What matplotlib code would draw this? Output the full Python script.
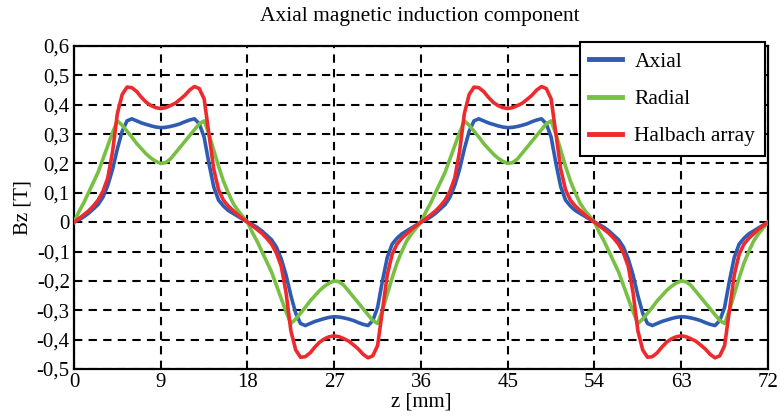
import matplotlib
matplotlib.use("Agg")
import matplotlib.pyplot as plt
import numpy as np

# z positions [mm], 0.5 mm step from 0 to 72
z_start, z_stop, z_step = 0.0, 72.0, 0.5

axial = [
    0, 0.008, 0.018, 0.03, 0.045, 0.06, 0.085, 0.125, 0.18, 0.25, 0.31, 0.345, 0.352, 0.345, 0.338, 0.333,
    0.328, 0.324, 0.322, 0.323, 0.326, 0.33, 0.335, 0.342, 0.348, 0.352, 0.335, 0.29, 0.2, 0.12, 0.075,
    0.055, 0.04, 0.03, 0.02, 0.01, 0,
    -0.008, -0.018, -0.03, -0.045, -0.06, -0.085, -0.125, -0.18, -0.25, -0.31, -0.345, -0.352, -0.345,
    -0.338, -0.333, -0.328, -0.324, -0.322, -0.323, -0.326, -0.33, -0.335, -0.342, -0.348, -0.352, -0.335,
    -0.29, -0.2, -0.12, -0.075, -0.055, -0.04, -0.03, -0.02, -0.01, 0,
    0.008, 0.018, 0.03, 0.045, 0.06, 0.085, 0.125, 0.18, 0.25, 0.31, 0.345, 0.352, 0.345, 0.338, 0.333,
    0.328, 0.324, 0.322, 0.323, 0.326, 0.33, 0.335, 0.342, 0.348, 0.352, 0.335, 0.29, 0.2, 0.12, 0.075,
    0.055, 0.04, 0.03, 0.02, 0.01, 0,
    -0.008, -0.018, -0.03, -0.045, -0.06, -0.085, -0.125, -0.18, -0.25, -0.31, -0.345, -0.352, -0.345,
    -0.338, -0.333, -0.328, -0.324, -0.322, -0.323, -0.326, -0.33, -0.335, -0.342, -0.348, -0.352, -0.335,
    -0.29, -0.2, -0.12, -0.075, -0.055, -0.04, -0.03, -0.02, -0.01, 0,
]

radial = [
    0, 0.035, 0.065, 0.1, 0.135, 0.17, 0.215, 0.26, 0.305, 0.345, 0.33, 0.31, 0.29, 0.268, 0.25, 0.232,
    0.218, 0.207, 0.2, 0.203, 0.215, 0.235, 0.255, 0.275, 0.295, 0.315, 0.335, 0.345, 0.3, 0.245, 0.19,
    0.14, 0.1, 0.065, 0.04, 0.02, 0,
    -0.035, -0.065, -0.1, -0.135, -0.17, -0.215, -0.26, -0.305, -0.345, -0.33, -0.31, -0.29, -0.268,
    -0.25, -0.232, -0.218, -0.207, -0.2, -0.203, -0.215, -0.235, -0.255, -0.275, -0.295, -0.315, -0.335,
    -0.345, -0.3, -0.245, -0.19, -0.14, -0.1, -0.065, -0.04, -0.02, 0,
    0.035, 0.065, 0.1, 0.135, 0.17, 0.215, 0.26, 0.305, 0.345, 0.33, 0.31, 0.29, 0.268, 0.25, 0.232,
    0.218, 0.207, 0.2, 0.203, 0.215, 0.235, 0.255, 0.275, 0.295, 0.315, 0.335, 0.345, 0.3, 0.245, 0.19,
    0.14, 0.1, 0.065, 0.04, 0.02, 0,
    -0.035, -0.065, -0.1, -0.135, -0.17, -0.215, -0.26, -0.305, -0.345, -0.33, -0.31, -0.29, -0.268,
    -0.25, -0.232, -0.218, -0.207, -0.2, -0.203, -0.215, -0.235, -0.255, -0.275, -0.295, -0.315, -0.335,
    -0.345, -0.3, -0.245, -0.19, -0.14, -0.1, -0.065, -0.04, -0.02, 0,
]

halbach = [
    0, 0.012, 0.025, 0.038, 0.055, 0.075, 0.105, 0.15, 0.24, 0.37, 0.435, 0.46, 0.458, 0.445, 0.425,
    0.408, 0.397, 0.39, 0.387, 0.39, 0.397, 0.405, 0.418, 0.432, 0.45, 0.462, 0.455, 0.42, 0.3, 0.18,
    0.11, 0.075, 0.055, 0.04, 0.025, 0.012, 0,
    -0.012, -0.025, -0.038, -0.055, -0.075, -0.105, -0.15, -0.24, -0.37, -0.435, -0.46, -0.458, -0.445,
    -0.425, -0.408, -0.397, -0.39, -0.387, -0.39, -0.397, -0.405, -0.418, -0.432, -0.45, -0.462, -0.455,
    -0.42, -0.3, -0.18, -0.11, -0.075, -0.055, -0.04, -0.025, -0.012, 0,
    0.012, 0.025, 0.038, 0.055, 0.075, 0.105, 0.15, 0.24, 0.37, 0.435, 0.46, 0.458, 0.445, 0.425,
    0.408, 0.397, 0.39, 0.387, 0.39, 0.397, 0.405, 0.418, 0.432, 0.45, 0.462, 0.455, 0.42, 0.3, 0.18,
    0.11, 0.075, 0.055, 0.04, 0.025, 0.012, 0,
    -0.012, -0.025, -0.038, -0.055, -0.075, -0.105, -0.15, -0.24, -0.37, -0.435, -0.46, -0.458, -0.445,
    -0.425, -0.408, -0.397, -0.39, -0.387, -0.39, -0.397, -0.405, -0.418, -0.432, -0.45, -0.462, -0.455,
    -0.42, -0.3, -0.18, -0.11, -0.075, -0.055, -0.04, -0.025, -0.012, 0,
]

series_names = ["Axial", "Radial", "Halbach array"]
x_ticks = [0, 9, 18, 27, 36, 45, 54, 63, 72]
y_ticks = [-0.5, -0.4, -0.3, -0.2, -0.1, 0, 0.1, 0.2, 0.3, 0.4, 0.5, 0.6]
y_tick_labels = ["-0,5", "-0,4", "-0,3", "-0,2", "-0,1", "0", "0,1", "0,2", "0,3", "0,4", "0,5", "0,6"]

z = np.arange(z_start, z_stop + z_step / 2, z_step)

plt.rcParams['font.family'] = ['Liberation Serif', 'DejaVu Serif']

fig = plt.figure(figsize=(7.8, 4.16), dpi=100)
ax = fig.add_axes([74 / 780, 1 - 369 / 416, (768 - 74) / 780, (369 - 46) / 416])

colors = ["#2e5cb3", "#78c043", "#ee2a2e"]
ax.plot(z, axial, color=colors[0], lw=2.6, label=series_names[0], zorder=3)
ax.plot(z, radial, color=colors[1], lw=2.6, label=series_names[1], zorder=3)
ax.plot(z, halbach, color=colors[2], lw=2.6, label=series_names[2], zorder=4)

ax.set_xlim(0, 72)
ax.set_ylim(-0.5, 0.6)
ax.set_xticks(x_ticks)
ax.set_xticklabels([str(t) for t in x_ticks])
ax.set_yticks(y_ticks)
ax.set_yticklabels(y_tick_labels)
ax.tick_params(length=0, labelsize=15, pad=3)
ax.grid(True, color="black", linestyle=(0, (4, 3)), linewidth=1.5)
for s in ax.spines.values():
    s.set_linewidth(1.6)
    s.set_color("black")

ax.set_xlabel("z [mm]", fontsize=15, labelpad=0)
ax.set_ylabel("Bz [T]", fontsize=15, labelpad=3)
fig.text(420 / 780, 1 - 17 / 416, "Axial magnetic induction component", ha="center", va="center",
         fontsize=15.5)

leg = ax.legend(loc="upper right", bbox_to_anchor=(765 / 780, 1 - 42 / 416), bbox_transform=fig.transFigure,
                borderaxespad=0, fancybox=False, framealpha=1, edgecolor="black", fontsize=15.5,
                handlelength=1.5, handletextpad=0.6, labelspacing=0.8, borderpad=0.45)
leg.get_frame().set_linewidth(1.5)
for l in leg.get_lines():
    l.set_linewidth(3.5)

fig.savefig("out.png", dpi=100)
